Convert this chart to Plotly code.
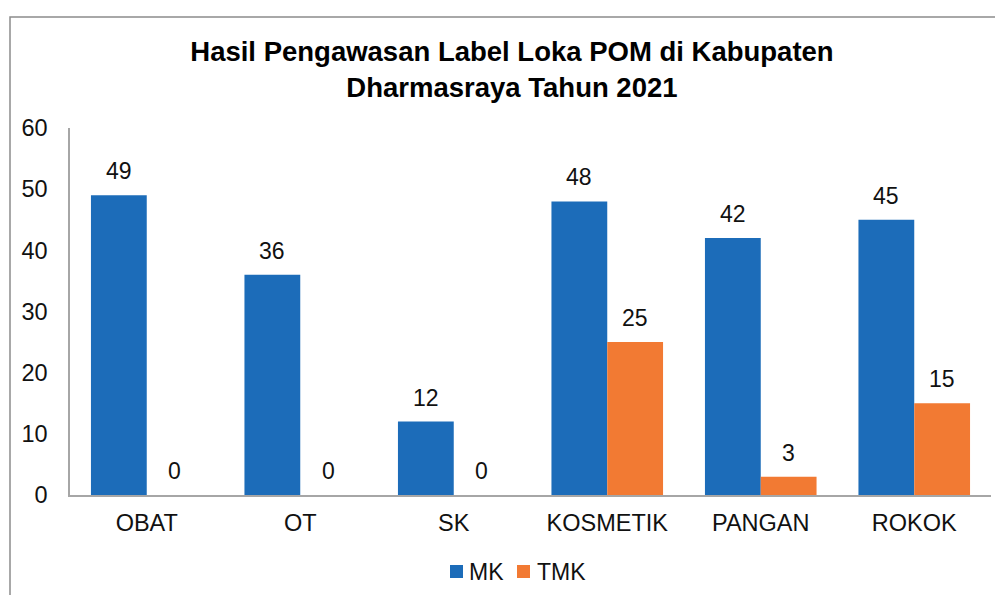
import plotly.graph_objects as go

categories = ["OBAT", "OT", "SK", "KOSMETIK", "PANGAN", "ROKOK"]
mk_values = [49, 36, 12, 48, 42, 45]
tmk_values = [0, 0, 0, 25, 3, 15]
series_names = ["MK", "TMK"]
y_ticks = [0, 10, 20, 30, 40, 50, 60]

FONT = "Arial, Liberation Sans, sans-serif"
BLUE = "#1C6CB9"
ORANGE = "#F27A33"
COLORS = [BLUE, ORANGE]

# plot area geometry (pixels) used for converting layout decorations
PW, PH = 921, 367


def px_x(px):  # page px -> paper x
    return (px - 70) / PW


def px_y(py):  # page px -> paper y
    return (495 - py) / PH


fig = go.Figure()
for name, vals, col in zip(series_names, [mk_values, tmk_values], COLORS):
    fig.add_trace(go.Bar(x=categories, y=vals, name=name,
                         marker=dict(color=col, line=dict(width=0))))

# value labels above bars
bar_px = PW / 6 * (1 - 0.273) / 2
annotations = []
for vals, shift in ((mk_values, -bar_px / 2), (tmk_values, bar_px / 2)):
    for c, v in zip(categories, vals):
        annotations.append(dict(x=c, y=v, xref="x", yref="y", text=str(v),
                                showarrow=False, xshift=shift, yanchor="bottom",
                                yshift=9, font=dict(family=FONT, size=23, color="#111")))

# custom legend (square + label)
shapes = []
legend_items = [(series_names[0], COLORS[0], 450, 467), (series_names[1], COLORS[1], 517, 535)]
for name, col, sq_left, txt_left in legend_items:
    shapes.append(dict(type="rect", xref="paper", yref="paper",
                       x0=px_x(sq_left), x1=px_x(sq_left + 13),
                       y0=px_y(578), y1=px_y(565),
                       fillcolor=col, line=dict(width=0)))
    annotations.append(dict(x=px_x(txt_left), y=px_y(572), xref="paper", yref="paper",
                            text=name, showarrow=False, xanchor="left", yanchor="middle",
                            font=dict(family=FONT, size=23, color="#111")))

# chart-area border (left and top edges)
shapes.append(dict(type="path", xref="paper", yref="paper",
                   path=f"M {px_x(10)},{px_y(700)} L {px_x(10)},{px_y(17)} L {px_x(1100)},{px_y(17)}",
                   line=dict(color="#8C8C8C", width=1.5)))

fig.update_layout(
    width=995, height=587,
    margin=dict(l=62, r=12, t=120, b=100, autoexpand=False),
    paper_bgcolor="white", plot_bgcolor="white",
    barmode="group", bargap=0.273, bargroupgap=0,
    title=dict(text="<b>Hasil Pengawasan Label Loka POM di Kabupaten<br>Dharmasraya Tahun 2021</b>",
               x=0.5065, xref="container", xanchor="center",
               y=0.909, yref="container", yanchor="top",
               font=dict(family=FONT, size=27.5, color="#000")),
    font=dict(family=FONT, size=23, color="#111"),
    showlegend=False,
    xaxis=dict(showline=True, linecolor="#A6A6A6", linewidth=1.5, ticks="",
               showgrid=False, tickfont=dict(size=23.5), ticklabelstandoff=6),
    yaxis=dict(range=[0, 60], tickvals=y_ticks, showline=True, linecolor="#A6A6A6",
               linewidth=1.5, ticks="", showgrid=False, zeroline=False,
               tickfont=dict(size=23.5), ticklabelstandoff=16),
    annotations=annotations,
    shapes=shapes,
)

fig.write_html("out.html")
